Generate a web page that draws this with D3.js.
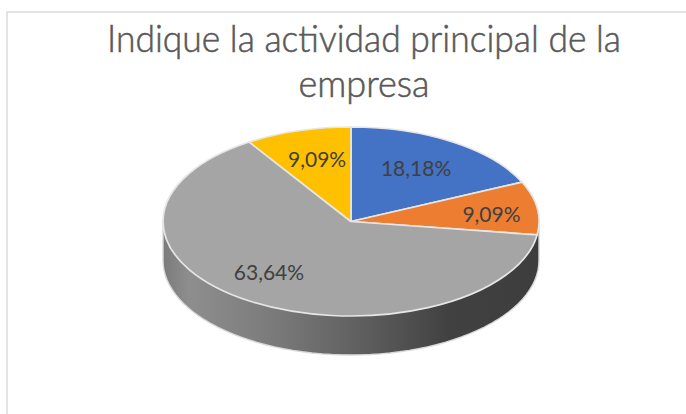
<!DOCTYPE html>
<html>
<head>
<meta charset="utf-8">
<script src="https://cdn.jsdelivr.net/npm/d3@7/dist/d3.min.js"></script>
<style>
html,body{margin:0;padding:0;background:#fff;overflow:hidden}
svg{display:block}
text{font-family:Lato,"Open Sans",sans-serif}
</style>
</head>
<body>
<script>
const categories = ["A", "B", "C", "D"];
const values = [18.18, 9.09, 63.64, 9.09];
const labels = ["18,18%", "9,09%", "63,64%", "9,09%"];
const colors = ["#4472c4", "#ed7d31", "#a5a5a5", "#ffc000"];
const titleLines = ["Indique la actividad principal de la", "empresa"];
const labelNudgeX = [-1, 19.5, -16, 0.5];
const labelNudgeY = [-1, 2, 0, -2.5];

const W = 686, H = 414;
const cx = 351, cy = 221.5, rx = 188, ry = 94.5, depth = 39;

const svg = d3.select("body").append("svg").attr("width", W).attr("height", H);

svg.append("rect").attr("width", W).attr("height", H).attr("fill", "#fff");
svg.append("path")
  .attr("d", `M7,${H}V12H${W}`)
  .attr("fill", "none").attr("stroke", "#dcdcdc").attr("stroke-width", 1.6);

titleLines.forEach((t, i) => {
  svg.append("text")
    .attr("x", 364).attr("y", 51.5 + i * 45.5)
    .attr("text-anchor", "middle")
    .attr("font-size", 37)
    .attr("font-weight", 300)
    .attr("fill", "#595959")
    .attr("stroke", "#595959")
    .attr("stroke-width", 0.55)
    .attr("textLength", i === 0 ? 514 : 131)
    .attr("lengthAdjust", "spacingAndGlyphs")
    .text(t);
});

const defs = svg.append("defs");
const gradient = defs.append("linearGradient")
  .attr("id", "wall").attr("gradientUnits", "userSpaceOnUse")
  .attr("x1", cx - rx).attr("x2", cx + rx).attr("y1", 0).attr("y2", 0);
[[0, "#7b7b7b"], [0.07, "#8e8e8e"], [0.3, "#7a7a7a"], [0.55, "#5c5c5c"], [0.76, "#414141"], [1, "#3d3d3d"]]
  .forEach(([o, c]) => gradient.append("stop").attr("offset", o).attr("stop-color", c));

// Extruded side wall
const wall = d3.path();
const steps = d3.range(0, 181, 3).map(d => d * Math.PI / 180);
steps.forEach((a, i) => {
  const x = cx + rx * Math.cos(a), y = cy + ry * Math.sin(a) + depth;
  i ? wall.lineTo(x, y) : wall.moveTo(x, y);
});
wall.lineTo(cx - rx, cy);
wall.lineTo(cx + rx, cy);
wall.closePath();
svg.append("path").attr("d", wall.toString())
  .attr("fill", "url(#wall)")
  .attr("stroke", "#d9d9d9").attr("stroke-width", 1.4);

// Top face
const pie = d3.pie().sort(null).value(d => d);
const arcs = pie(values);
const arc = d3.arc().innerRadius(0).outerRadius(1);
const topFace = svg.append("g")
  .attr("transform", `translate(${cx},${cy}) scale(${rx},${ry})`);
topFace.selectAll("path").data(arcs).join("path")
  .attr("d", arc)
  .attr("fill", (d, i) => colors[i])
  .attr("stroke", "#e6e6e6")
  .attr("stroke-width", 1.7)
  .attr("vector-effect", "non-scaling-stroke")
  .attr("stroke-linejoin", "round");

// Data labels
const labelArc = d3.arc().innerRadius(0.65).outerRadius(0.65);
svg.selectAll("text.lab").data(arcs).join("text")
  .attr("class", "lab")
  .attr("x", (d, i) => cx + rx * labelArc.centroid(d)[0] + labelNudgeX[i])
  .attr("y", (d, i) => cy + ry * labelArc.centroid(d)[1] + labelNudgeY[i] + 7)
  .attr("text-anchor", "middle")
  .attr("font-size", 21)
  .attr("fill", "#404040")
  .text((d, i) => labels[i]);
</script>
</body>
</html>
